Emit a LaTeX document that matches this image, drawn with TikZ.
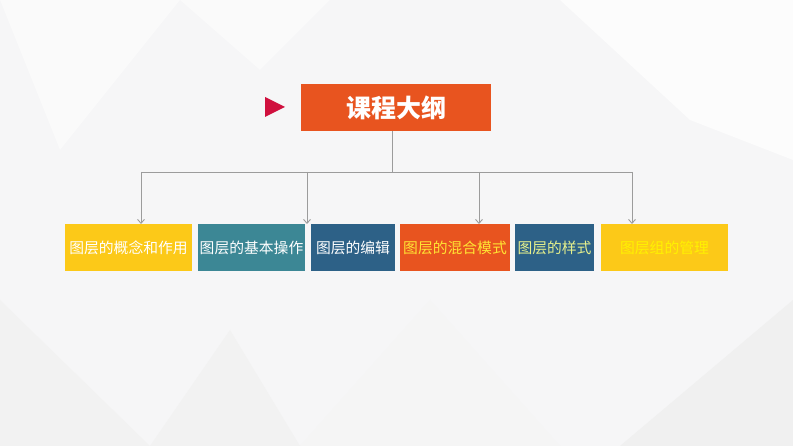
\documentclass[tikz,border=0pt]{standalone}
\usepackage{fontspec}
\setmainfont{Noto Sans CJK SC}
\usepackage{xcolor}
\usepackage{tikz}
\usetikzlibrary{arrows.meta}
\definecolor{bgGray}{HTML}{F6F6F7}
\definecolor{titleOrange}{HTML}{E8541F}
\definecolor{markRed}{HTML}{D0103E}
\definecolor{boxYellow}{HTML}{FCC918}
\definecolor{boxTeal}{HTML}{3C8795}
\definecolor{boxBlue}{HTML}{2D6187}
\definecolor{txtYellow}{HTML}{FFE433}
\definecolor{txtLime}{HTML}{E6F08C}
\definecolor{txtBright}{HTML}{FFF200}
\definecolor{lineGray}{HTML}{9C9C9C}
\tikzset{
  topic/.style={inner sep=0pt,minimum height=47pt,align=center,font=\fontsize{14.8}{16}\selectfont},
  line/.style={draw=lineGray,line width=0.9pt},
  arr/.style={line,-{Straight Barb[length=4pt,width=7pt]}},
  facet/.style={draw=none}
}

\begin{document}
\begin{tikzpicture}[x=1pt,y=-1pt]
\useasboundingbox (0,0) rectangle (793,446);
\fill[bgGray] (0,0) rectangle (793,446);
% faint background facets
\fill[white!98!black,facet] (0,0) -- (180,0) -- (60,150) -- cycle;
\fill[white!95!black,facet] (0,300) -- (150,446) -- (0,446) -- cycle;
\fill[white!96!black,facet] (300,446) -- (430,300) -- (560,446) -- cycle;
\fill[white!99!black,facet] (560,0) -- (793,0) -- (793,160) -- (690,120) -- cycle;
\fill[white!94!black,facet] (620,446) -- (793,300) -- (793,446) -- cycle;
\fill[white!98!black,facet] (180,0) -- (330,0) -- (260,70) -- cycle;
\fill[white!95!black,facet] (150,446) -- (230,330) -- (300,446) -- cycle;

\node[fill=titleOrange,inner sep=0pt,minimum width=190pt,minimum height=47pt,
  text=white,font=\fontsize{25}{27}\selectfont\bfseries] (title) at (396,107.5) {课程大纲};
\fill[markRed] (265,97) -- (285,107) -- (265,117) -- cycle;

\node[topic,fill=boxYellow,minimum width=127pt,text=white] (b1) at (128.5,247.5) {图层的概念和作用};
\node[topic,fill=boxTeal,minimum width=107pt,text=white] (b2) at (251.5,247.5) {图层的基本操作};
\node[topic,fill=boxBlue,minimum width=84pt,text=white] (b3) at (353,247.5) {图层的编辑};
\node[topic,fill=titleOrange,minimum width=110pt,text=txtYellow] (b4) at (455,247.5) {图层的混合模式};
\node[topic,fill=boxBlue,minimum width=79pt,text=txtLime] (b5) at (554.5,247.5) {图层的样式};
\node[topic,fill=boxYellow,minimum width=127pt,text=txtBright] (b6) at (664.5,247.5) {图层组的管理};

\coordinate (hub) at (392,172);
\coordinate (t1) at (141,224);
\coordinate (t2) at (307,224);
\coordinate (t3) at (479,224);
\coordinate (t4) at (632,224);

\draw[line] (title.south -| hub) -- (hub);
\draw[line] (t1 |- hub) -- (t4 |- hub);
\draw[arr] (t1 |- hub) -- (t1);
\draw[arr] (t2 |- hub) -- (t2);
\draw[arr] (t3 |- hub) -- (t3);
\draw[arr] (t4 |- hub) -- (t4);
\end{tikzpicture}
\end{document}
